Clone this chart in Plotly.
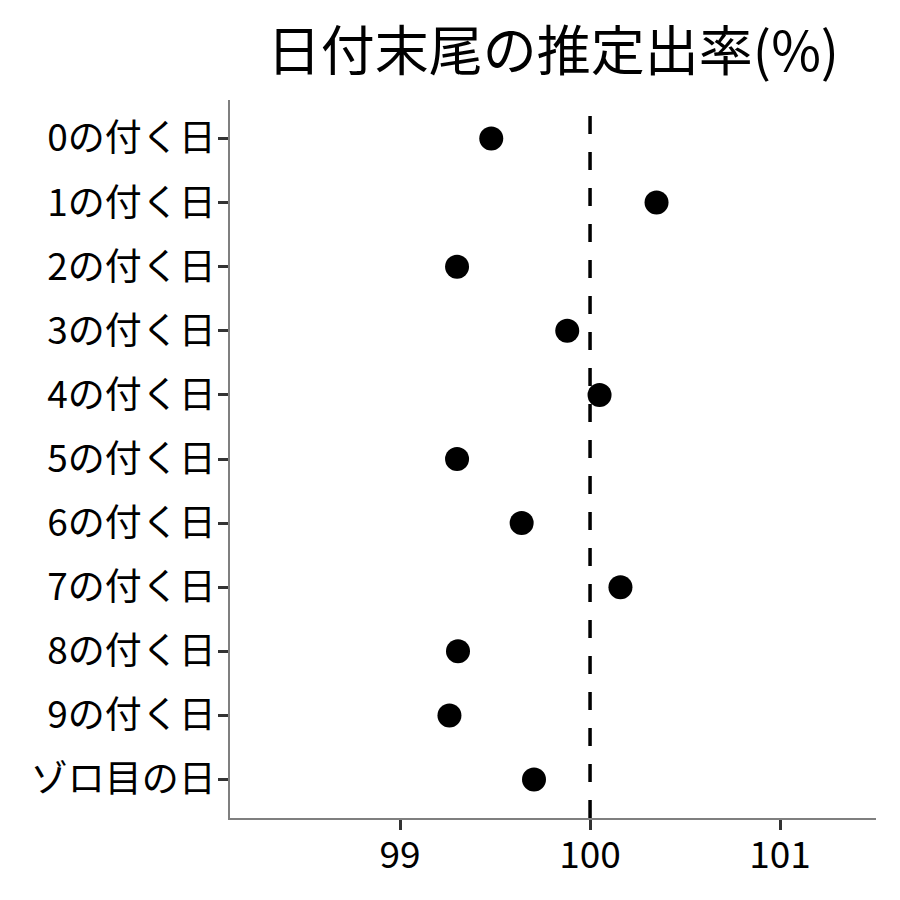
import plotly.graph_objects as go

categories = ["0の付く日", "1の付く日", "2の付く日", "3の付く日", "4の付く日",
              "5の付く日", "6の付く日", "7の付く日", "8の付く日", "9の付く日", "ゾロ目の日"]
values = [99.48, 100.35, 99.30, 99.88, 100.05, 99.30, 99.64, 100.16, 99.305, 99.26, 99.705]
x_ticks = [99, 100, 101]
reference_value = 100

FONT = "Noto Sans CJK JP"

fig = go.Figure()
fig.add_trace(go.Scatter(
    x=values, y=categories, mode="markers",
    marker=dict(color="black", size=24),
    showlegend=False,
))
fig.add_shape(type="line", x0=reference_value, x1=reference_value, xref="x",
              y0=0, y1=1, yref="paper",
              line=dict(color="black", width=3.5, dash="18px,18px"))

fig.update_layout(
    width=900, height=900,
    margin=dict(l=222, r=32, t=92, b=90),
    paper_bgcolor="white", plot_bgcolor="white",
    font=dict(family=FONT, color="black"),
    title=dict(text="日付末尾の推定出率(%)", x=545 / 900, xanchor="center",
               y=1 - 44 / 900, yanchor="middle",
               font=dict(family=FONT, size=54, color="black")),
)
fig.update_xaxes(
    range=[98.105, 101.505], tickvals=x_ticks, ticktext=[str(t) for t in x_ticks],
    showgrid=False, zeroline=False,
    showline=True, linecolor="#7f7f7f", linewidth=1.5,
    ticks="outside", ticklen=10, tickwidth=3, tickcolor="#333333",
    ticklabelstandoff=-6,
    tickfont=dict(family=FONT, size=37, color="black"),
)
fig.update_yaxes(
    categoryorder="array", categoryarray=categories,
    range=[len(categories) - 0.4, -0.6],
    showgrid=False, zeroline=False,
    showline=True, linecolor="#7f7f7f", linewidth=1.5,
    ticks="outside", ticklen=10, tickwidth=3, tickcolor="#333333",
    ticklabelstandoff=-5,
    tickfont=dict(family=FONT, size=37, color="black"),
)

fig.write_html("out.html")
